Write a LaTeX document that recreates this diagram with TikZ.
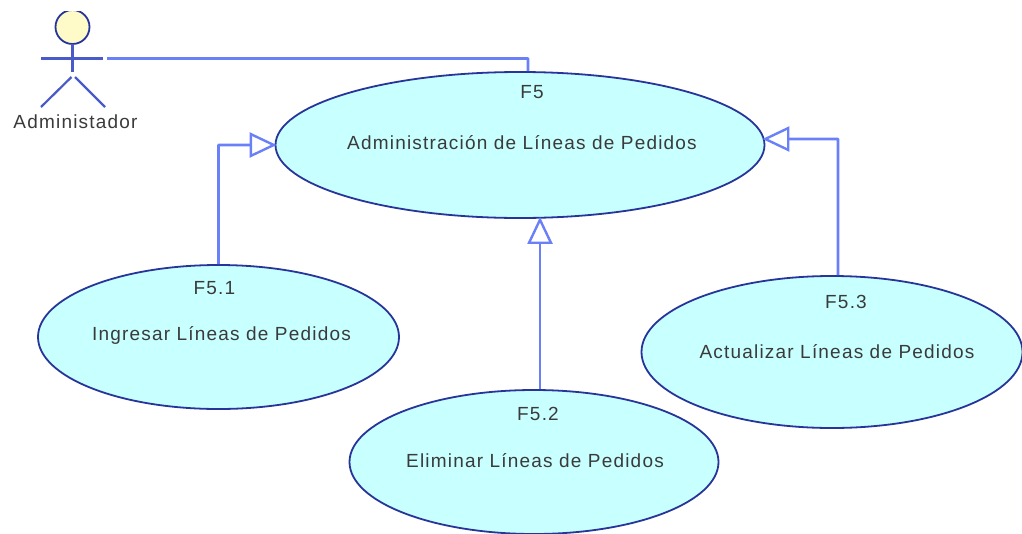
\documentclass[tikz,border=0pt]{standalone}
\usepackage{fontspec}
\setmainfont{Liberation Sans}[LetterSpace=6.3]
\usetikzlibrary{arrows.meta,shapes.geometric,calc}
\definecolor{casefill}{HTML}{C8FFFF}
\definecolor{caseline}{HTML}{27359A}
\definecolor{linkline}{HTML}{6A80F8}
\definecolor{headfill}{HTML}{FFFBC8}
\definecolor{labeltext}{HTML}{3A3A3A}
\tikzstyle{usecase}=[ellipse,fill=casefill,draw=caseline,line width=1.8pt,inner sep=0pt]
\tikzstyle{edge} = [draw=linkline,line width=2.8pt,rounded corners=0.5pt]
\tikzstyle{generalize} = [edge,shorten >=-2pt,-{Triangle[open,length=27pt,width=25pt,line width=2.4pt,fill=white]}]
\tikzstyle{stick} = [draw=caseline!50!linkline,line width=2.2pt]
\tikzstyle{weight} = [font=\fontsize{19}{22}\selectfont,text=labeltext,inner sep=0pt]

\begin{document}
\begin{tikzpicture}[x=1pt,y=-1pt]
    \useasboundingbox (0,0) rectangle (1022,533);
    % First we draw the use cases
    \foreach \pos/\name/\wide/\high/\cx/\cy/\tx/\ty/\code/\title in {
        {(520,145)/F5/489/146/12/-53/2/-2/F5/Administración de Líneas de Pedidos},
        {(218.5,337)/F51/361/144/-4/-49/3/-2/F5.1/Ingresar Líneas de Pedidos},
        {(534,462)/F52/369/144/4/-48/1/-1/F5.2/Eliminar Líneas de Pedidos},
        {(832,352)/F53/381/152/14/-50/5/0/F5.3/Actualizar Líneas de Pedidos}}
    {
        \node[usecase,minimum width=\wide pt,minimum height=\high pt] (\name) at \pos {};
        \node[weight] (\name code) at ($(\name.center)+(\cx,\cy)$) {\code};
        \node[weight] (\name title) at ($(\name.center)+(\tx,\ty)$) {\title};
    }

    % the actor
    \begin{scope}
        \clip (30,11) rectangle (120,120);
        \node[circle,fill=headfill,draw=caseline,line width=1.8pt,minimum size=34pt,inner sep=0pt] (head) at (72.5,27) {};
    \end{scope}
    \coordinate (neck) at (72.5,44);
    \coordinate (hip) at (72.5,72);
    \coordinate (handl) at (41,58.5);
    \coordinate (handr) at (103,58.5);
    \coordinate (legl) at (71.5,77);
    \coordinate (legr) at (75,77);
    \coordinate (footl) at (41,107);
    \coordinate (footr) at (105,107);
    \draw[stick] (neck) -- (hip);
    \draw[stick] (handl) -- (handr);
    \draw[stick] (legl) -- (footl);
    \draw[stick] (legr) -- (footr);
    \node[weight] (actorname) at (75.5,122) {Administador};

    % Connect use cases with edges
    \coordinate (armend) at (107,58.5);
    \path[edge] (armend) -| ($(F5.north)+(8,0)$);
    \path[generalize] (F51.north) |- (F5.west);
    \path[generalize] ($(F52.north)+(6,0)$) -- ($(F5.south)+(20,0)$);
    \path[generalize] ($(F53.north)+(6,0)$) |- ($(F5.east)+(-1,-6)$);
\end{tikzpicture}
\end{document}
